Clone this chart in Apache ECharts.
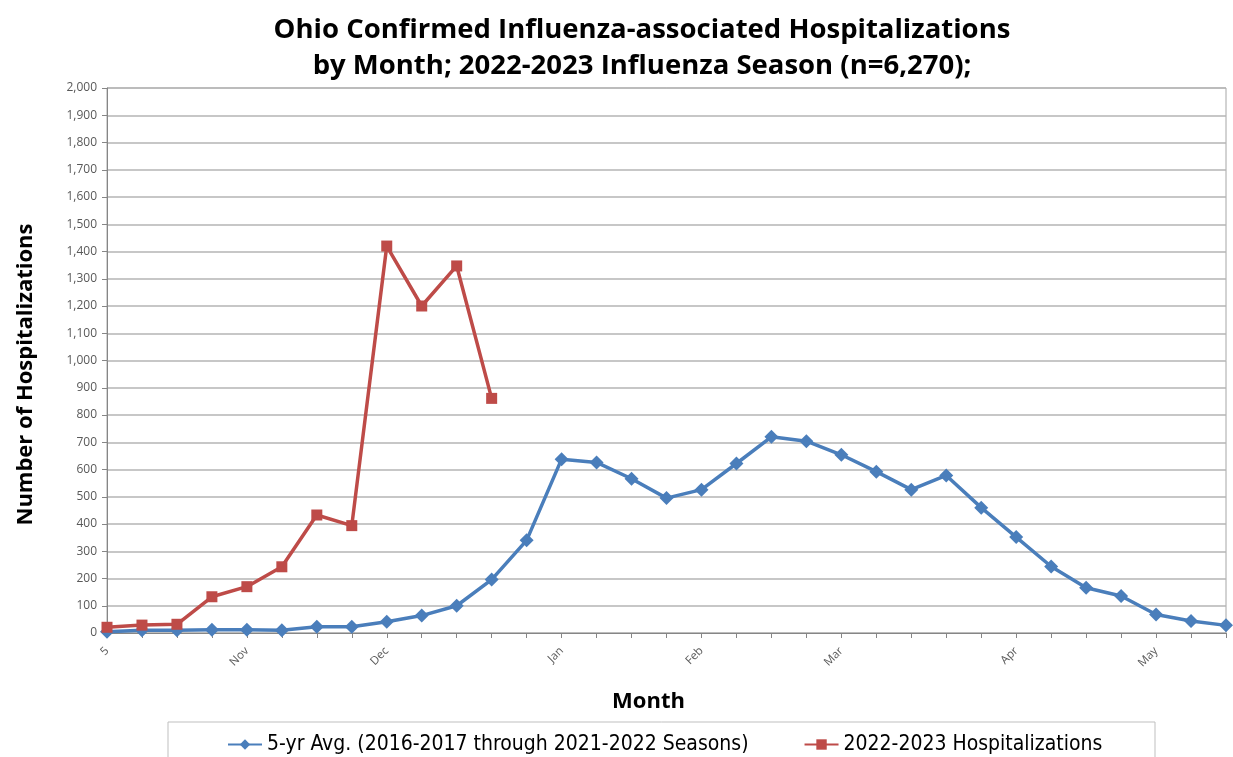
<!DOCTYPE html>
<html>
<head>
<meta charset="utf-8">
<script src="https://cdn.jsdelivr.net/npm/echarts@6/dist/echarts.min.js"></script>
<style>
  html, body { margin: 0; padding: 0; background: #fff; }
  #chart { width: 1233px; height: 757px; }
</style>
</head>
<body>
<div id="chart"></div>
<script>
// month labels sit on selected weekly points; the rest are blank
const weeks = ['5', '', '', '', 'Nov', '', '', '', 'Dec', '', '', '', '', 'Jan', '', '', '',
  'Feb', '', '', '', 'Mar', '', '', '', '', 'Apr', '', '', '', 'May', '', '']

// 5-yr average (2016-2017 through 2021-2022)
const avgValues = [5, 10, 10, 12, 12, 10, 23, 23, 41, 64, 100, 196, 340, 638, 626, 566, 495, 526,
  622, 720, 704, 654, 592, 526, 578, 460, 352, 244, 166, 136, 68, 44, 28]

// 2022-2023 season
const seasonValues = [21, 29, 32, 133, 170, 243, 433, 394, 1420, 1200, 1347, 861]

const yTicks = { min: 0, max: 2000, interval: 100 }

const chart = echarts.init(document.getElementById('chart'))

chart.setOption({
  animation: false,
  title: {
    text: 'Ohio Confirmed Influenza-associated Hospitalizations\nby Month; 2022-2023 Influenza Season (n=6,270);',
    left: 637,
    textAlign: 'center',
    top: 7,
    textStyle: {
      fontFamily: 'Open Sans',
      fontWeight: 'bold',
      fontSize: 27.5,
      lineHeight: 36,
      color: '#000',
    },
  },
  grid: {
    left: 107,
    right: 7,
    top: 88,
    bottom: 124,
    show: true,
    borderColor: '#a6a6a6',
    borderWidth: 1,
  },
  legend: {
    top: 729,
    left: 222,
    itemGap: 55,
    itemWidth: 34,
    itemHeight: 13,
    textStyle: {
      fontFamily: "'DejaVu Sans Condensed', 'Liberation Sans', sans-serif",
      fontSize: 21,
      color: '#000',
    },
    data: ['5-yr Avg. (2016-2017 through 2021-2022 Seasons)', '2022-2023 Hospitalizations'],
  },
  graphic: [{
    type: 'rect',
    shape: { x: 168, y: 722, width: 987, height: 50 },
    style: { fill: 'none', stroke: '#bfbfbf', lineWidth: 1 },
    z: -1,
  }],
  xAxis: {
    type: 'category',
    data: weeks,
    boundaryGap: false,
    name: 'Month',
    nameLocation: 'middle',
    nameGap: 58,
    nameTextStyle: {
      fontFamily: 'Open Sans',
      fontWeight: 'bold',
      fontSize: 22,
      color: '#000',
      padding: [0, 36, 0, 0],
    },
    axisLine: { lineStyle: { color: '#868686' } },
    axisTick: { interval: 0, length: 5, lineStyle: { color: '#868686' } },
    axisLabel: {
      interval: 0,
      rotate: 45,
      fontFamily: 'Open Sans',
      fontSize: 11.5,
      color: '#595959',
      margin: 16,
    },
    splitLine: { show: false },
  },
  yAxis: {
    type: 'value',
    min: yTicks.min,
    max: yTicks.max,
    interval: yTicks.interval,
    name: 'Number of Hospitalizations',
    nameLocation: 'middle',
    nameGap: 70,
    nameTextStyle: {
      fontFamily: 'Open Sans',
      fontWeight: 'bold',
      fontSize: 22,
      color: '#000',
      padding: [0, 28, 0, 0],
    },
    axisLine: { show: true, lineStyle: { color: '#868686' } },
    axisTick: { show: true, length: 5, lineStyle: { color: '#868686' } },
    axisLabel: {
      fontFamily: 'Open Sans',
      fontSize: 12,
      color: '#595959',
      margin: 10,
      formatter: v => v.toLocaleString('en-US'),
    },
    splitLine: { lineStyle: { color: '#b4b4b4', width: 1.5 } },
  },
  series: [
    {
      name: '5-yr Avg. (2016-2017 through 2021-2022 Seasons)',
      type: 'line',
      data: avgValues,
      symbol: 'diamond',
      symbolSize: 14,
      color: '#4a7ebb',
      lineStyle: { width: 3.5, color: '#4a7ebb' },
      itemStyle: { color: '#4a7ebb' },
    },
    {
      name: '2022-2023 Hospitalizations',
      type: 'line',
      data: seasonValues,
      symbol: 'rect',
      symbolSize: 11,
      color: '#be4b48',
      lineStyle: { width: 3.5, color: '#be4b48' },
      itemStyle: { color: '#be4b48' },
      z: 3,
    },
  ],
})
</script>
</body>
</html>
